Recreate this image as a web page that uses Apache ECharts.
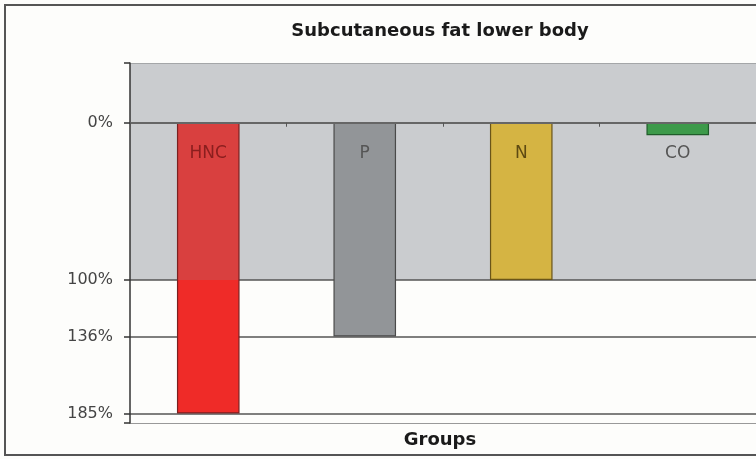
<!DOCTYPE html>
<html>
<head>
<meta charset="utf-8">
<script src="https://cdn.jsdelivr.net/npm/echarts@6/dist/echarts.min.js"></script>
<style>
  html, body { margin: 0; padding: 0; background: #fdfdfb; }
  #chart { width: 756px; height: 459px; }
</style>
</head>
<body>
<div id="chart"></div>
<script>
// ---- data ----
const categories = ['HNC', 'P', 'N', 'CO'];
const values = [185, 136, 100, 8];          // % of reference
const tickValues = [0, 100, 136, 185];       // labelled y ticks
const shadeLimit = 100;                      // grey band reaches down to 100%
const axisMin = -38;
const axisMax = 191;

// ---- styles ----
const FONT = 'DejaVu Sans';
const barColors = ['#ef2b28', '#929598', '#d5b443', '#3d9a4a'];
const barUpperHNC = '#d9403f';
const borderColors = ['#7a2020', '#4a4a4a', '#6a5518', '#205c2a'];
const labelColors = ['#8a1e1e', '#555555', '#5e4a12', '#555555'];

const chart = echarts.init(document.getElementById('chart'), null, { renderer: 'canvas' });

const barData = values.map((v, i) => {
  let color = barColors[i];
  if (i === 0) {
    const split = shadeLimit / v;
    color = new echarts.graphic.LinearGradient(0, 0, 0, 1, [
      { offset: 0, color: barUpperHNC },
      { offset: split, color: barUpperHNC },
      { offset: split, color: barColors[0] },
      { offset: 1, color: barColors[0] }
    ]);
  }
  return {
    value: v,
    itemStyle: { color: color, borderColor: borderColors[i], borderWidth: 1.2 },
    label: { color: labelColors[i] }
  };
});

const gridLines = tickValues.filter(v => v !== 0).map(v => ({ yAxis: v }));

chart.setOption({
  backgroundColor: '#fdfdfb',
  animation: false,
  title: {
    text: 'Subcutaneous fat lower body',
    left: 440,
    top: 22,
    textAlign: 'center',
    padding: 0,
    textStyle: { fontFamily: FONT, fontSize: 18, fontWeight: 'bold', color: '#1a1a1a' }
  },
  grid: { left: 130, right: 0, top: 63, bottom: 36, containLabel: false },
  xAxis: {
    type: 'category',
    data: categories,
    z: 5,
    axisLine: { show: true, onZero: true, lineStyle: { color: '#666', width: 2 } },
    axisTick: { show: true, length: 4, lineStyle: { color: '#555' } },
    axisLabel: { show: false },
    splitLine: { show: false }
  },
  yAxis: {
    type: 'value',
    inverse: true,
    min: axisMin,
    max: axisMax,
    z: 5,
    axisLine: { show: true, lineStyle: { color: '#333', width: 1.5 } },
    axisTick: {
      show: true,
      customValues: [axisMin].concat(tickValues, [axisMax]),
      length: 6,
      lineStyle: { color: '#333', width: 1.5 }
    },
    axisLabel: {
      customValues: tickValues,
      formatter: v => v + '%',
      fontFamily: FONT,
      fontSize: 16,
      color: '#444',
      margin: 17
    },
    splitLine: { show: false }
  },
  series: [
    {
      type: 'bar',
      data: barData,
      barWidth: '40%',
      z: 2,
      label: {
        show: true,
        position: ['50%', 31],
        align: 'center',
        verticalAlign: 'middle',
        formatter: p => p.name,
        fontFamily: FONT,
        fontSize: 17
      },
      markArea: {
        silent: true,
        z: 1,
        itemStyle: { color: '#cacccf' },
        label: { show: false },
        data: [[{ yAxis: axisMin }, { yAxis: shadeLimit }]]
      },
      markLine: {
        silent: true,
        z: 1.5,
        symbol: ['none', 'none'],
        label: { show: false },
        lineStyle: { color: '#555', width: 1.5, type: 'solid' },
        data: gridLines.concat([
          { yAxis: axisMax, lineStyle: { color: '#999', width: 1 } },
          { yAxis: axisMin, lineStyle: { color: '#a4a6a8', width: 1 } }
        ])
      }
    }
  ],
  graphic: [
    {
      type: 'rect',
      shape: { x: 5, y: 5, width: 800, height: 450 },
      style: { fill: null, stroke: '#555', lineWidth: 2 },
      silent: true,
      z: 10
    },
    {
      type: 'text',
      x: 440,
      y: 440,
      style: {
        text: 'Groups',
        font: 'bold 18px "DejaVu Sans"',
        fill: '#1a1a1a',
        textAlign: 'center',
        textVerticalAlign: 'middle'
      },
      z: 10
    }
  ]
});
</script>
</body>
</html>
